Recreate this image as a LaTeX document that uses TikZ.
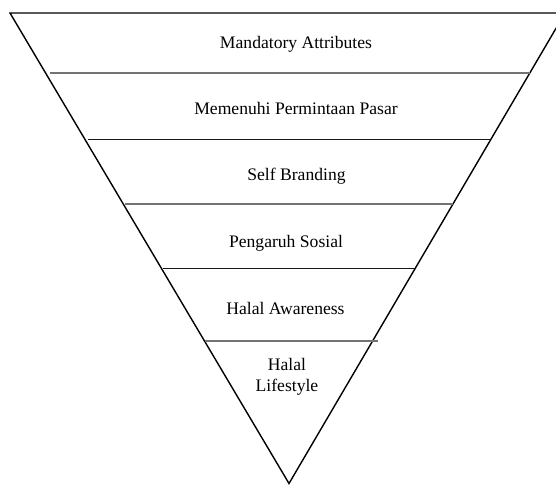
\documentclass[tikz,border=0pt]{standalone}
\usepackage{fontspec}
\setmainfont{Liberation Serif}
\newfontfamily\timesfont{Liberation Serif}
\begin{document}
\begin{tikzpicture}[x=1pt,y=-1pt,
  edge/.style={line width=1.4pt, black, line join=miter},
  sepgray/.style={line width=1.1pt, black!55},
  sepdark/.style={line width=0.9pt, black!90},
  lbl/.style={anchor=base, font=\timesfont\fontsize{17.6}{21}\selectfont, inner sep=0pt, align=center}]
\useasboundingbox (0,0) rectangle (556,484);
\begin{scope}
  \clip (0,0) rectangle (556,484);
  \draw[edge] (10,13) -- (565,13) -- (289,483.5) -- cycle;
\end{scope}
% separators
\coordinate (s1l) at (50,73);  \coordinate (s1r) at (530,73);
\coordinate (s2l) at (88,139); \coordinate (s2r) at (490,139);
\coordinate (s3l) at (125,204); \coordinate (s3r) at (453,204);
\coordinate (s4l) at (163,268); \coordinate (s4r) at (415,268);
\coordinate (s5l) at (205,341); \coordinate (s5r) at (378,341);
\draw[sepgray] (s1l) -- (s1r);
\draw[sepdark] (s2l) -- (s2r);
\draw[sepgray] (s3l) -- (s3r);
\draw[sepdark] (s4l) -- (s4r);
\draw[sepgray] (s5l) -- (s5r);
% labels
\node[lbl] (t1) at (296,49) {Mandatory Attributes};
\node[lbl] (t2) at (296,114.5) {Memenuhi Permintaan Pasar};
\node[lbl] (t3) at (296.5,180.7) {Self Branding};
\node[lbl] (t4) at (286,247) {Pengaruh Sosial};
\node[lbl] (t5) at (285.5,314) {Halal Awareness};
\node[lbl] (t6) at (287,391.7) {Halal\\Lifestyle};
\end{tikzpicture}
\end{document}
